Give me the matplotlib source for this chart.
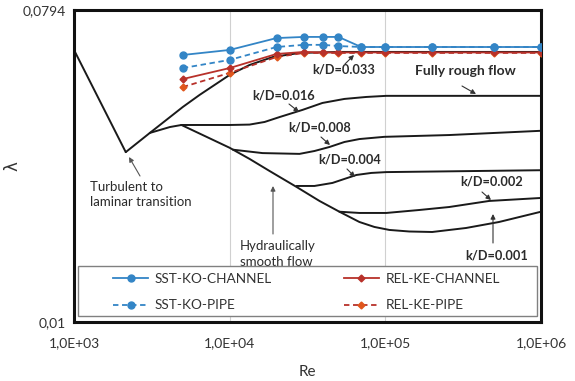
import matplotlib
matplotlib.use("Agg")
import matplotlib.pyplot as plt
from matplotlib.patches import Rectangle
from matplotlib.lines import Line2D

plt.rcParams['font.family'] = ['Lato', 'DejaVu Sans']

# ---- Moody-type reference curves (Re, lambda) ----
lam_re = [1000, 2150]
lam_f = [0.0609, 0.0309]

trunk_re = [2150, 3070, 4130, 4900]
trunk_f = [0.0309, 0.0351, 0.0365, 0.0370]

kd033_re = [3070, 5000, 6420, 10000, 13400, 18900, 28100, 50700, 1000000]
kd033_f = [0.0351, 0.0417, 0.0452, 0.0516, 0.0551, 0.0581, 0.0597, 0.0601, 0.0601]

kd016_re = [4900, 10000, 13430, 16770, 20920, 29370, 39450, 54600, 75500, 101500, 1000000]
kd016_f = [0.0370, 0.0370, 0.0371, 0.03775, 0.0390, 0.0409, 0.04283, 0.04399, 0.04457, 0.0449, 0.0449]

kd008_re = [10500, 16270, 28100, 35060, 43750, 54600, 68130, 98500, 257200, 1000000]
kd008_f = [0.0314, 0.0307, 0.03054, 0.03113, 0.03197, 0.03305, 0.0337, 0.0342, 0.03461, 0.0356]

kd004_re = [26890, 35060, 45740, 54600, 65200, 81300, 101500, 1000000]
kd004_f = [0.02468, 0.02468, 0.02518, 0.02586, 0.02655, 0.02691, 0.02706, 0.0274]

kd002_re = [50700, 68130, 101500, 165200, 257200, 464000, 1000000]
kd002_f = [0.0208, 0.02063, 0.02063, 0.02104, 0.02146, 0.02234, 0.02279]

smooth_re = [4900, 6910, 10000, 13430, 18040, 26890, 37760, 50700, 68130, 85000,
             106100, 142500, 200000, 330000, 538000, 1000000]
smooth_f = [0.0370, 0.0344, 0.0318, 0.02953, 0.02726, 0.02452, 0.02234, 0.0208, 0.01943, 0.0188,
            0.01843, 0.01824, 0.01818, 0.01867, 0.01943, 0.0208]

# ---- simulation series ----
re_sim = [5e3, 1e4, 2e4, 3e4, 4e4, 5e4, 7e4, 1e5, 2e5, 5e5, 1e6]
sst_channel = [0.0589, 0.0609, 0.0659, 0.0664, 0.0664, 0.0664, 0.0621, 0.0621, 0.0621, 0.0621, 0.0621]
sst_pipe = [0.0540, 0.0570, 0.0621, 0.0630, 0.0630, 0.0625, 0.0621, 0.0621, 0.0621, 0.0621, 0.0621]
rel_channel = [0.0502, 0.0540, 0.0593, 0.0601, 0.0599, 0.0599, 0.0599, 0.0599, 0.0599, 0.0599, 0.0599]
rel_pipe = [0.0476, 0.0523, 0.0581, 0.0597, 0.0597, 0.0597, 0.0597, 0.0597, 0.0597, 0.0597, 0.0597]

x_ticks = [1e3, 1e4, 1e5, 1e6]
x_tick_labels = ['1,0E+03', '1,0E+04', '1,0E+05', '1,0E+06']
y_ticks = [0.01, 0.0794]
y_tick_labels = ['0,01', '0,0794']

BLUE = '#3385c6'
RED = '#b8312a'
ORANGE = '#e0561c'

fig = plt.figure(figsize=(5.75, 3.81), dpi=100)
ax = fig.add_axes([74/575, 1-322/381, 467/575, 312/381])
ax.set_xscale('log')
ax.set_yscale('log')
ax.set_xlim(1e3, 1e6)
ax.set_ylim(0.01, 0.0794)

for xv in [1e4, 1e5]:
    ax.axvline(xv, color='#d0d0d0', lw=0.8, zorder=0)

lw = 1.4
for r, f in [(lam_re, lam_f), (trunk_re, trunk_f), (kd033_re, kd033_f),
             (kd016_re, kd016_f), (kd008_re, kd008_f), (kd004_re, kd004_f),
             (kd002_re, kd002_f), (smooth_re, smooth_f)]:
    ax.plot(r, f, color='#1a1a1a', lw=lw, solid_joinstyle='round',
            solid_capstyle='round', zorder=2)

ax.plot(re_sim, rel_pipe, ls=(0, (3, 2)), color=RED, lw=1.3, marker='D', ms=3.5,
        mfc=ORANGE, mec=ORANGE, zorder=3)
ax.plot(re_sim, rel_channel, ls='-', color=RED, lw=1.3, marker='D', ms=3.5,
        mfc=RED, mec=RED, zorder=3)
ax.plot(re_sim, sst_pipe, ls=(0, (3, 2)), color=BLUE, lw=1.3, marker='o', ms=5,
        mfc=BLUE, mec=BLUE, zorder=3)
ax.plot(re_sim, sst_channel, ls='-', color=BLUE, lw=1.3, marker='o', ms=5,
        mfc=BLUE, mec=BLUE, zorder=3)

ax.set_xticks(x_ticks)
ax.set_xticklabels(x_tick_labels)
ax.set_yticks(y_ticks)
ax.set_yticklabels(y_tick_labels)
ax.minorticks_off()
ax.tick_params(length=0, labelsize=10, labelcolor='#333333')
ax.tick_params(axis='x', pad=11)
ax.tick_params(axis='y', pad=6)
for s in ax.spines.values():
    s.set_linewidth(2.2)
    s.set_color('#111111')
ax.set_xlabel('Re', fontsize=11, color='#333333', labelpad=11)
ax.set_ylabel('λ', fontsize=12, color='#333333', labelpad=1, rotation=90,
              family=['DejaVu Sans'])


def P(x, y):
    return ((x - 74) / 467, (322 - y) / 312)


tcol = '#2b2b2b'
def label(txt, x, y, bold=True, size=9.2, **kw):
    ax.text(*P(x, y), txt, transform=ax.transAxes, fontsize=size, color=tcol,
            fontweight='bold' if bold else 'normal', va='center', ha='left',
            zorder=4, **kw)


def arrow(x0, y0, x1, y1, col='#333333'):
    ax.annotate('', xy=P(x1, y1), xycoords='axes fraction', xytext=P(x0, y0),
                textcoords='axes fraction',
                arrowprops=dict(arrowstyle='-|>', color=col, lw=0.8,
                                mutation_scale=7, shrinkA=0, shrinkB=0),
                zorder=4)


label('Turbulent to\nlaminar transition', 90, 194.5, bold=False, size=9.5, linespacing=1.35)
arrow(140, 176, 129, 157, '#555555')
label('Hydraulically\nsmooth flow', 240, 254, bold=False, size=9.5, linespacing=1.35)
arrow(273, 234, 273, 186, '#555555')
label('k/D=0.033', 312, 69)
arrow(345, 64, 354, 55)
label('Fully rough flow', 415, 71, size=10)
arrow(462, 86, 476, 94)
label('k/D=0.016', 252, 95)
arrow(289, 104, 299, 112)
label('k/D=0.008', 288, 128)
arrow(321, 137, 330, 145)
label('k/D=0.004', 318, 160)
arrow(347, 169, 355, 177)
label('k/D=0.002', 460, 182)
arrow(482, 192, 491, 200)
label('k/D=0.001', 465, 255)
arrow(493, 243, 493, 214)

# legend box
(bx0, by0) = P(78, 316)
(bx1, by1) = P(537, 266)
ax.add_patch(Rectangle((bx0, by0), bx1 - bx0, by1 - by0, transform=ax.transAxes,
                       facecolor='white', edgecolor='#808080', lw=1.0, zorder=5))

handles = [
    Line2D([], [], color=BLUE, lw=1.3, marker='o', ms=5, ls='-'),
    Line2D([], [], color=BLUE, lw=1.3, marker='o', ms=5, ls=(0, (3, 2))),
    Line2D([], [], color=RED, lw=1.3, marker='D', ms=3.5, ls='-'),
    Line2D([], [], color=RED, lw=1.3, marker='D', ms=3.5, ls=(0, (3, 2)),
           mfc=ORANGE, mec=ORANGE),
]
labels = ['SST-KO-CHANNEL', 'SST-KO-PIPE', 'REL-KE-CHANNEL', 'REL-KE-PIPE']
leg = ax.legend(handles, labels, ncol=2, loc='upper left', bbox_to_anchor=P(113, 273),
                frameon=False, fontsize=9.8, handlelength=2.6, handletextpad=0.45,
                columnspacing=5.3, labelspacing=1.05, borderpad=0, borderaxespad=0)
leg.set_zorder(6)
for t in leg.get_texts():
    t.set_color('#333333')

fig.savefig('out.png', dpi=100)
